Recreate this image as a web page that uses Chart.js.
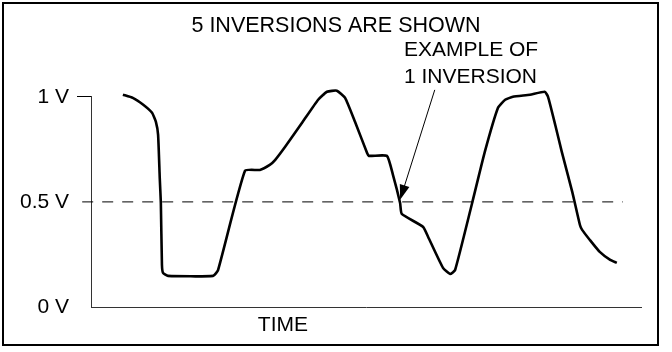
<!DOCTYPE html>
<html>
<head>
<meta charset="utf-8">
<title>5 inversions</title>
<script src="https://cdn.jsdelivr.net/npm/chart.js@4.4.0/dist/chart.umd.min.js"></script>
<style>
    html, body { margin: 0; padding: 0; background: #fff; }
    canvas { display: block; }
</style>
</head>
<body>
<canvas id="myChart" width="672" height="352"></canvas>
<script>
// Signal trace (time as % of the axis, volts)
const timeValues = [5.8, 7.6, 9.5, 11.1, 11.8, 12.2, 12.5, 12.7, 12.9, 13.1,
    14.0, 22.2, 23.1, 28.0, 30.7, 32.5, 33.5, 35.3, 38.5, 41.3,
    42.9, 44.7, 46.2, 48.0, 50.2, 50.5, 53.8, 54.9, 56.2, 56.5,
    60.4, 61.3, 64.0, 65.3, 66.2, 69.3, 71.6, 74.0, 75.3, 76.7,
    79.8, 82.5, 83.1, 84.4, 85.6, 87.5, 88.9, 89.3, 90.7, 92.5,
    94.4, 95.6];
const voltValues = [1.01, 0.995, 0.962, 0.924, 0.881, 0.819, 0.614, 0.495, 0.20, 0.162,
    0.148, 0.148, 0.176, 0.648, 0.652, 0.676, 0.70, 0.762, 0.881, 0.986,
    1.024, 1.029, 0.995, 0.881, 0.733, 0.719, 0.719, 0.629, 0.495, 0.443,
    0.381, 0.333, 0.186, 0.157, 0.176, 0.495, 0.738, 0.948, 0.986, 1.0,
    1.01, 1.024, 1.0, 0.867, 0.738, 0.548, 0.39, 0.367, 0.319, 0.262,
    0.224, 0.21];

// 0.5 V threshold (dashed)
const thresholdTime = [-1.6, 96.7];
const thresholdVolts = [0.5, 0.5];

// Axis ticks
const voltTicks = [0, 0.5, 1];
const voltTickLabels = ['0 V', '0.5 V', '1 V'];
const timeTicks = [34.9];
const timeTickLabels = ['TIME'];

const titleText = '5 INVERSIONS ARE SHOWN';
const noteLines = ['EXAMPLE OF', '1 INVERSION'];

const FONT = '"Liberation Sans", Arial, Helvetica, sans-serif';

// where the note and its arrow sit, in axis units
const note = {
    textTime: 56.9,
    textVolts: [1.22, 1.095],
    arrowFrom: { x: 62.5, y: 1.033 },
    arrowTo: { x: 56.2, y: 0.51 }
};

const notePlugin = {
    id: 'note',
    afterDatasetsDraw(chart) {
        const { ctx, scales: { x, y } } = chart;
        ctx.save();
        ctx.fillStyle = '#000';
        ctx.strokeStyle = '#000';

        // arrow shaft
        const x1 = x.getPixelForValue(note.arrowFrom.x), y1 = y.getPixelForValue(note.arrowFrom.y);
        const x2 = x.getPixelForValue(note.arrowTo.x), y2 = y.getPixelForValue(note.arrowTo.y);
        const ang = Math.atan2(y2 - y1, x2 - x1);
        ctx.lineWidth = 1;
        ctx.beginPath();
        ctx.moveTo(x1, y1);
        ctx.lineTo(x2 - 10 * Math.cos(ang), y2 - 10 * Math.sin(ang));
        ctx.stroke();

        // arrow head
        const len = 15, half = 5;
        const bx = x2 - len * Math.cos(ang), by = y2 - len * Math.sin(ang);
        ctx.beginPath();
        ctx.moveTo(x2, y2);
        ctx.lineTo(bx + half * Math.sin(ang), by - half * Math.cos(ang));
        ctx.lineTo(bx - half * Math.sin(ang), by + half * Math.cos(ang));
        ctx.closePath();
        ctx.fill();

        // text
        ctx.font = '21px ' + FONT;
        ctx.textAlign = 'left';
        ctx.textBaseline = 'middle';
        noteLines.forEach((line, i) => {
            ctx.fillText(line, x.getPixelForValue(note.textTime), y.getPixelForValue(note.textVolts[i]));
        });
        ctx.restore();
    },
    afterDraw(chart) {
        // frame round the whole figure
        const ctx = chart.ctx;
        ctx.save();
        ctx.strokeStyle = '#000';
        ctx.lineWidth = 2;
        ctx.strokeRect(3, 3, 655, 342);
        ctx.restore();
    }
};

Chart.defaults.font.family = FONT;
Chart.defaults.font.size = 21;
Chart.defaults.color = '#000';

const ctx = document.getElementById('myChart').getContext('2d');
const myChart = new Chart(ctx, {
    type: 'line',
    data: {
        datasets: [{
            label: 'signal',
            data: timeValues.map((t, i) => ({ x: t, y: voltValues[i] })),
            borderColor: '#000',
            borderWidth: 2.6,
            pointRadius: 0,
            tension: 0.15,
            clip: false
        }, {
            label: 'threshold',
            data: thresholdTime.map((t, i) => ({ x: t, y: thresholdVolts[i] })),
            borderColor: '#000',
            borderWidth: 1,
            borderDash: [11, 9],
            pointRadius: 0,
            clip: false
        }]
    },
    options: {
        responsive: false,
        animation: false,
        devicePixelRatio: 1,
        layout: { padding: 0 },
        plugins: {
            legend: { display: false },
            tooltip: { enabled: false },
            title: {
                display: true,
                text: titleText,
                font: { size: 21.5, weight: 'normal' },
                color: '#000',
                padding: { top: 13, bottom: 58 }
            }
        },
        scales: {
            x: {
                type: 'linear',
                min: 0,
                max: 100,
                afterBuildTicks: scale => { scale.ticks = timeTicks.map(v => ({ value: v })); },
                afterFit: scale => { scale.height = 45; },
                ticks: {
                    padding: 6,
                    maxRotation: 0,
                    callback: (v, i) => timeTickLabels[i]
                },
                grid: { display: false, drawTicks: false },
                border: { color: '#333', width: 1 }
            },
            y: {
                type: 'linear',
                min: 0,
                max: 1,
                afterBuildTicks: scale => { scale.ticks = voltTicks.map(v => ({ value: v })); },
                afterFit: scale => { scale.width = 91; },
                ticks: {
                    padding: 8,
                    callback: (v, i) => voltTickLabels[i]
                },
                grid: {
                    drawOnChartArea: false,
                    drawTicks: true,
                    tickLength: 14,
                    tickWidth: 1,
                    tickColor: c => (c.tick && c.tick.value === 1 ? '#000' : 'rgba(0,0,0,0)')
                },
                border: { color: '#333', width: 1 }
            },
            // empty strip on the right so the plot ends where the original does
            spacer: {
                type: 'linear',
                position: 'right',
                display: true,
                afterFit: scale => { scale.width = 31; },
                ticks: { display: false },
                grid: { display: false },
                border: { display: false }
            }
        }
    },
    plugins: [notePlugin]
});
</script>
</body>
</html>
